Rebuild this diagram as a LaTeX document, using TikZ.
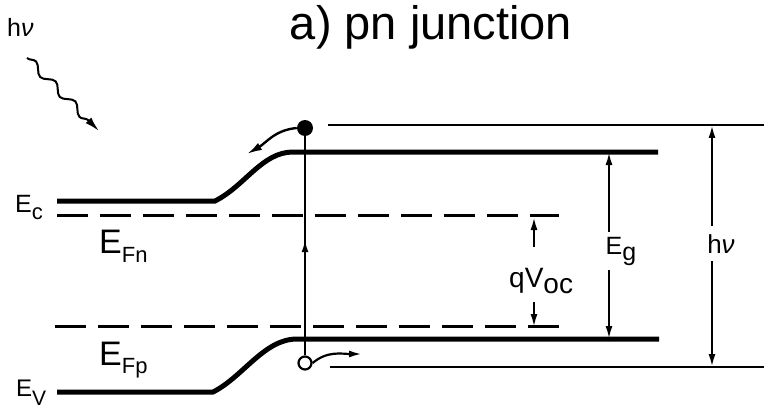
\documentclass[tikz,border=0pt]{standalone}
\usepackage{fontspec}
\setmainfont{Liberation Sans}
\usetikzlibrary{arrows.meta,decorations.pathmorphing,decorations.markings}
\newcommand\lblsub[3]{\raisebox{-#2}{\fontsize{#1}{#1}\selectfont #3}}
\begin{document}
\begin{tikzpicture}[x=1pt,y=-1pt,
  >={Latex[length=13pt,width=7pt]},
  band/.style={line width=5pt},
  level/.style={line width=2.8pt},
  fermi/.style={line width=3pt, dash pattern=on 31pt off 12pt},
  dimline/.style={line width=2.2pt},
  lbl/.style={inner sep=0pt},
  cutlbl/.style={fill=white, inner xsep=1pt, inner ysep=5pt},
  photon/.style={line width=2pt, decorate,
    decoration={snake, amplitude=4pt, segment length=28pt, post length=14pt}},
]
\useasboundingbox (0,0) rectangle (764,412);
% title
\node[lbl, anchor=base] (title) at (431,40) {\fontsize{47}{50}\selectfont a) pn junction};
% photon
\node[lbl, anchor=base west] (hnu) at (7,37) {\fontsize{25}{25}\selectfont h{\itshape ν}};
\coordinate (ph1) at (27,58);
\coordinate (ph2) at (99,131);
\draw[photon,-{Latex[length=15pt,width=8pt]}] (ph1) -- (ph2);
% band edges
\coordinate (ecL) at (57,201);
\coordinate (ecK) at (215,201);
\coordinate (ecT) at (293,152);
\coordinate (ecR) at (658,152);
\coordinate (evL) at (57,392);
\coordinate (evK) at (213,392);
\coordinate (evT) at (297,339);
\coordinate (evR) at (659,339);
\draw[band] (ecL) -- (ecK) .. controls (245,186) and (262,152) .. (ecT) -- (ecR);
\draw[band] (evL) -- (evK) .. controls (243,377) and (264,339) .. (evT) -- (evR);
% quasi Fermi levels
\coordinate (fnL) at (57,215);
\coordinate (fnR) at (559,215);
\coordinate (fpL) at (55,326);
\coordinate (fpR) at (564,326);
\draw[fermi] (fnL) -- (fnR);
\draw[fermi] (fpL) -- (fpR);
% photon energy levels
\coordinate (tL) at (328,125);
\coordinate (tR) at (764,125);
\coordinate (bL) at (330,367);
\coordinate (bR) at (764,367);
\draw[level] (tL) -- (tR);
\draw[level] (bL) -- (bR);
% electron and hole
\node[circle, fill=black, inner sep=0pt, minimum size=16pt] (dot) at (305,128) {};
\node[circle, draw=black, line width=2.2pt, fill=white, inner sep=0pt, minimum size=13pt] (hole) at (305,363) {};
\draw[line width=2.4pt, postaction={decorate, decoration={markings, mark=at position 0.53 with {\arrow{>}}}}] (hole.north) -- (dot.south);
\coordinate (ea) at (247,154);
\draw[line width=2.4pt, -{Latex[length=15pt,width=8pt]}] (dot.west) to[out=185, in=30] (ea);
\coordinate (ha) at (362,354);
\draw[line width=2.2pt, ->] (hole.east) to[out=40, in=180] (ha);
% Eg
\coordinate (egT) at (609,152);
\coordinate (egB) at (609,339);
\draw[dimline, <->] (egT) -- (egB);
\node[cutlbl, anchor=base] (Eg) at (621,254) {\fontsize{25}{25}\selectfont E\lblsub{25}{6pt}{g}};
% h nu
\coordinate (hvT) at (712,125);
\coordinate (hvB) at (712,367);
\draw[dimline, <->] (hvT) -- (hvB);
\node[cutlbl, inner ysep=8pt, anchor=base] (hv) at (721,253) {\fontsize{26}{26}\selectfont h{\itshape ν}};
% qVoc
\coordinate (qa1) at (534,247);
\coordinate (qa2) at (534,217);
\coordinate (qb1) at (534,302);
\coordinate (qb2) at (534,327);
\draw[dimline, ->] (qa1) -- (qa2);
\draw[dimline, ->] (qb1) -- (qb2);
\node[lbl, anchor=base west] (qv) at (509,287) {\fontsize{28}{28}\selectfont qV\lblsub{28}{6pt}{oc}};
% level labels
\node[lbl, anchor=base west] (lEc) at (15,212) {\fontsize{25}{25}\selectfont E\lblsub{22}{7pt}{c}};
\node[lbl, anchor=base west] (lEv) at (16,396) {\fontsize{24}{24}\selectfont E\lblsub{21}{9pt}{V}};
\node[lbl, anchor=base west] (lFn) at (99,253) {\fontsize{34}{34}\selectfont E\lblsub{22}{9pt}{Fn}};
\node[lbl, anchor=base west] (lFp) at (99,365) {\fontsize{34}{34}\selectfont E\lblsub{22}{8pt}{Fp}};
\end{tikzpicture}
\end{document}
